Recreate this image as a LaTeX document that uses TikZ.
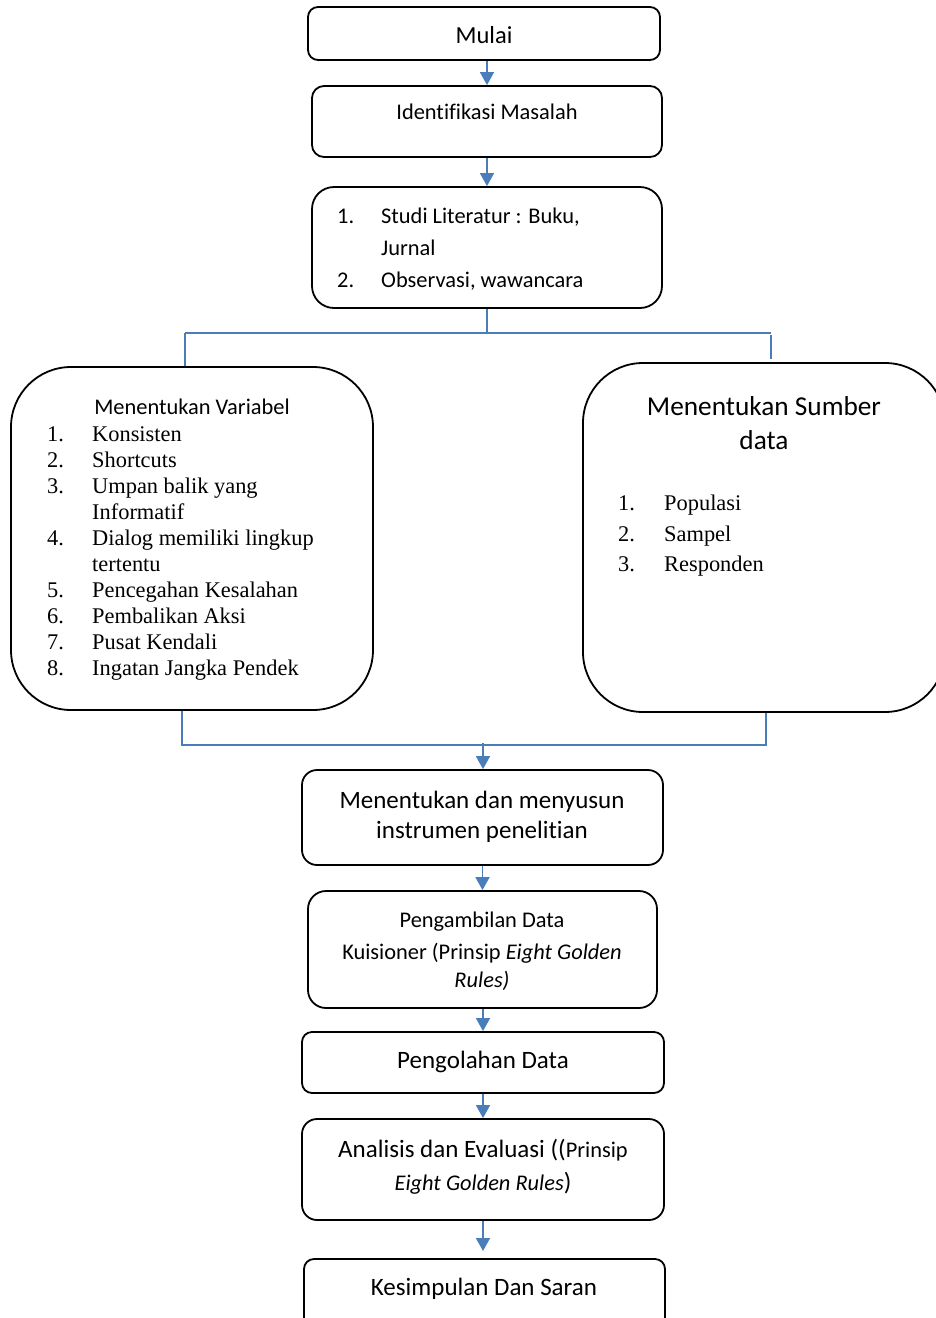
\documentclass[tikz,border=0pt]{standalone}
\usepackage{fontspec}
\usetikzlibrary{arrows.meta}
\newfontfamily\calfont[Ligatures={NoCommon}]{Carlito}
\newfontfamily\tmsfont{Liberation Serif}
\definecolor{flowblue}{RGB}{74,126,187}
\tikzset{
  box/.style={draw=black, line width=1.8pt, fill=none, inner sep=0pt},
  lnk/.style={draw=flowblue, line width=1.6pt},
  arr/.style={lnk, -{Triangle[width=14pt,length=13pt]}},
  cal/.style={inner sep=0pt, font=\calfont\fontsize{22.4}{26}\selectfont},
  calbig/.style={inner sep=0pt, font=\calfont\fontsize{25}{29}\selectfont},
  tms/.style={inner sep=0pt, anchor=base west, font=\tmsfont\fontsize{22.4}{26}\selectfont},
}
\begin{document}
\begin{tikzpicture}[x=1pt,y=-1pt]
\fill[white] (0,0) rectangle (935,1318);
\useasboundingbox (0,0) rectangle (935,1318);

% boxes
\node[box, rounded corners=10pt, minimum width=352pt, minimum height=53pt] (mulai) at (484,33.5) {};
\node[box, rounded corners=12pt, minimum width=350pt, minimum height=71pt] (ident) at (487,121.5) {};
\node[box, rounded corners=22pt, minimum width=350pt, minimum height=121pt] (studi) at (487,247.5) {};
\node[box, rounded corners=60pt, minimum width=362pt, minimum height=343pt] (var) at (192,538.5) {};
\node[box, rounded corners=60pt, minimum width=362pt, minimum height=349pt] (sumber) at (764,537.5) {};
\node[box, rounded corners=15pt, minimum width=361pt, minimum height=95pt] (instr) at (482.5,817.5) {};
\node[box, rounded corners=18pt, minimum width=349pt, minimum height=117pt] (ambil) at (482.5,949.5) {};
\node[box, rounded corners=10pt, minimum width=362pt, minimum height=61pt] (olah) at (483,1062.5) {};
\node[box, rounded corners=15pt, minimum width=362pt, minimum height=101pt] (anal) at (483,1169.5) {};
\node[box, rounded corners=10pt, minimum width=361pt, minimum height=80pt] (simp) at (484.5,1299) {};

% texts
\node[cal, anchor=base, font=\calfont\fontsize{24.5}{28}\selectfont] (tmulai) at (484,43) {Mulai};
\node[cal, anchor=base] (tident) at (487,119) {Identifikasi Masalah};

\node[cal, anchor=base west] (s1n) at (337,223) {1.};
\node[cal, anchor=base west] (s1) at (381,223) {Studi Literatur : Buku,};
\node[cal, anchor=base west] (s1b) at (381,255) {Jurnal};
\node[cal, anchor=base west] (s2n) at (337,287) {2.};
\node[cal, anchor=base west] (s2) at (381,287) {Observasi, wawancara};

\node[cal, anchor=base] (tvar) at (192,414) {Menentukan Variabel};
\node[tms] (v1n) at (47,441) {1.};  \node[tms] (v1) at (92,441) {Konsisten};
\node[tms] (v2n) at (47,467) {2.};  \node[tms] (v2) at (92,467) {Shortcuts};
\node[tms] (v3n) at (47,493) {3.};  \node[tms] (v3) at (92,493) {Umpan balik yang};
\node[tms] (v3b) at (92,519) {Informatif};
\node[tms] (v4n) at (47,545) {4.};  \node[tms] (v4) at (92,545) {Dialog memiliki lingkup};
\node[tms] (v4b) at (92,571) {tertentu};
\node[tms] (v5n) at (47,597) {5.};  \node[tms] (v5) at (92,597) {Pencegahan Kesalahan};
\node[tms] (v6n) at (47,623) {6.};  \node[tms] (v6) at (92,623) {Pembalikan Aksi};
\node[tms] (v7n) at (47,649) {7.};  \node[tms] (v7) at (92,649) {Pusat Kendali};
\node[tms] (v8n) at (47,675) {8.};  \node[tms] (v8) at (92,675) {Ingatan Jangka Pendek};

\node[cal, anchor=base, font=\calfont\fontsize{27.3}{31}\selectfont] (tsum) at (764,415) {Menentukan Sumber};
\node[cal, anchor=base, font=\calfont\fontsize{27.3}{31}\selectfont] (tsumb) at (764,449) {data};
\node[tms] (r1n) at (618,510) {1.};  \node[tms] (r1) at (664,510) {Populasi};
\node[tms] (r2n) at (618,541) {2.};  \node[tms] (r2) at (664,541) {Sampel};
\node[tms] (r3n) at (618,571) {3.};  \node[tms] (r3) at (664,571) {Responden};

\node[calbig, anchor=base] (tinstr) at (482,808) {Menentukan dan menyusun};
\node[calbig, anchor=base] (tinstrb) at (482,838) {instrumen penelitian};

\node[cal, anchor=base] (tambil) at (482,927) {Pengambilan Data};
\node[cal, anchor=base] (tambilb) at (482,959) {Kuisioner (Prinsip \textit{Eight Golden}};
\node[cal, anchor=base] (tambilc) at (482,987) {\textit{Rules)}};

\node[calbig, anchor=base] (tolah) at (483,1068) {Pengolahan Data};

\node[calbig, anchor=base] (tanal) at (483,1157) {Analisis dan Evaluasi ((\fontsize{22.4}{26}\selectfont Prinsip};
\node[cal, anchor=base] (tanalb) at (483,1190) {\textit{Eight Golden Rules}\fontsize{25}{29}\selectfont)};

\node[calbig, anchor=base] (tsimp) at (484,1295) {Kesimpulan Dan Saran};

% connectors
\draw[arr] (ident.north |- mulai.south) -- (ident.north);
\draw[arr] (ident.south) -- (studi.north);

\coordinate (split) at (487,333);
\coordinate (bl) at (185,333);
\coordinate (br) at (771,333);
\draw[lnk] (studi.south) -- (split);
\draw[lnk] (bl) -- (br);
\draw[lnk] (bl) -- (bl |- var.north);
\draw[lnk] ([yshift=-2pt]br) -- ([yshift=3pt]br |- sumber.north);

\coordinate (ml) at (182,745);
\coordinate (mr) at (766,745);
\coordinate (mid) at (483,743);
\draw[lnk] (ml |- var.south) -- (ml) -- (mr) -- (mr |- sumber.south);
\draw[arr] (mid) -- (mid |- instr.north);

\draw[arr] (instr.south -| ambil.north) -- (ambil.north);
\draw[arr] (ambil.south -| olah.north) -- (olah.north);
\draw[arr] (olah.south) -- (anal.north);
\coordinate (simptop) at (483,1251);
\draw[arr] (anal.south) -- (simptop);
\end{tikzpicture}
\end{document}
